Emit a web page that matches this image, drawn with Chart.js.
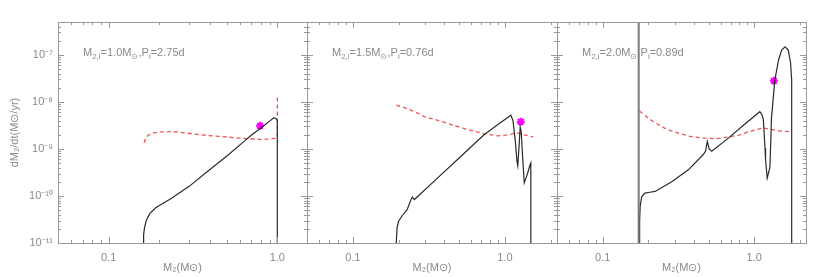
<!DOCTYPE html>
<html>
<head>
<meta charset="utf-8">
<script src="https://cdn.jsdelivr.net/npm/chart.js@4"></script>
<style>
  body { margin: 0; background: #fff; }
  #wrap { position: relative; width: 830px; height: 277px; }
  #wrap canvas { position: absolute; left: 0; top: 0; }
</style>
</head>
<body>
<div id="wrap">
  <canvas id="c1" width="830" height="277"></canvas>
  <canvas id="c2" width="830" height="277"></canvas>
  <canvas id="c3" width="830" height="277"></canvas>
</div>
<script>
// axis ticks / labels
const yTickValues = [1e-11, 1e-10, 1e-9, 1e-8, 1e-7];
const yTickLabels = ['10⁻¹¹', '10⁻¹⁰', '10⁻⁹', '10⁻⁸', '10⁻⁷'];
const xTickValues = [0.1, 1.0];
const xTickLabels = ['0.1', '1.0'];

// panel annotations
const panelMass = ['1.0', '1.5', '2.0'];
const panelPeriod = ['2.75', '0.76', '0.89'];

// panel 1 : M2,i = 1.0
const p1MdotX = [0.160, 0.161, 0.163, 0.167, 0.175, 0.19, 0.21, 0.231, 0.30, 0.40, 0.50, 0.643, 0.70, 0.80, 0.90, 0.955, 0.985, 1.0, 1.0];
const p1MdotY = [1e-11, 1.5e-11, 2.1e-11, 3e-11, 4.2e-11, 5.6e-11, 7e-11, 8.5e-11, 1.6e-10, 3.7e-10, 7e-10, 1.5e-9, 1.95e-9, 2.8e-9, 3.9e-9, 4.6e-9, 4.4e-9, 4.0e-9, 1e-11];
const p1CritX = [0.162, 0.166, 0.171, 0.185, 0.20, 0.24, 0.28, 0.35, 0.45, 0.60, 0.79, 0.90, 0.98, 1.0, 1.0];
const p1CritY = [1.35e-9, 1.7e-9, 1.95e-9, 2.2e-9, 2.3e-9, 2.33e-9, 2.2e-9, 2.0e-9, 1.85e-9, 1.7e-9, 1.6e-9, 1.62e-9, 1.7e-9, 1.75e-9, 1.3e-8];
const p1StarX = [0.79];
const p1StarY = [3.1e-9];

// panel 2 : M2,i = 1.5
const p2MdotX = [0.193, 0.1955, 0.200, 0.211, 0.2275, 0.2415, 0.2467, 0.254, 0.265, 0.35, 0.50, 0.729, 0.90, 1.094, 1.13, 1.17, 1.20, 1.215, 1.24, 1.26, 1.28, 1.31, 1.34, 1.40, 1.46, 1.48, 1.48];
const p2MdotY = [1e-11, 2.1e-11, 2.9e-11, 3.8e-11, 5.1e-11, 8.4e-11, 9.5e-11, 8.4e-11, 9.5e-11, 2.2e-10, 6.4e-10, 2.0e-9, 3.3e-9, 5.2e-9, 4.0e-9, 1.5e-9, 5.5e-10, 4.4e-10, 1.2e-9, 2.9e-9, 2.3e-9, 6e-10, 1.9e-10, 2.8e-10, 4.5e-10, 5e-10, 1e-11];
const p2CritX = [0.193, 0.22, 0.26, 0.293, 0.377, 0.47, 0.566, 0.729, 0.90, 1.05, 1.20, 1.35, 1.53];
const p2CritY = [8.5e-9, 7.5e-9, 6e-9, 4.9e-9, 3.9e-9, 3.1e-9, 2.6e-9, 2.1e-9, 1.9e-9, 2.0e-9, 2.2e-9, 2.0e-9, 1.8e-9];
const p2StarX = [1.27];
const p2StarY = [3.8e-9];

// panel 3 : M2,i = 2.0
const p3MdotX = [0.175, 0.1755, 0.177, 0.181, 0.19, 0.205, 0.222, 0.286, 0.368, 0.462, 0.478, 0.491, 0.505, 0.525, 0.676, 0.85, 1.09, 1.12, 1.15, 1.18, 1.19, 1.22, 1.27, 1.29, 1.30, 1.37, 1.45, 1.52, 1.60, 1.68, 1.74, 1.77, 1.77];
const p3MdotY = [1e-11, 3e-11, 6e-11, 9.5e-11, 1.15e-10, 1.2e-10, 1.25e-10, 2e-10, 3.6e-10, 7.6e-10, 9e-10, 1.45e-9, 1.0e-9, 8.9e-10, 1.7e-9, 3.2e-9, 6.2e-9, 5.5e-9, 4.3e-9, 1.05e-9, 5.9e-10, 2.4e-10, 4e-10, 1.6e-9, 4.3e-9, 2.9e-8, 7.8e-8, 1.26e-7, 1.48e-7, 1.26e-7, 6.8e-8, 2.9e-8, 1e-11];
const p3CritX = [0.175, 0.20, 0.23, 0.265, 0.32, 0.377, 0.47, 0.566, 0.68, 0.807, 1.0, 1.15, 1.3, 1.5, 1.77];
const p3CritY = [6.4e-9, 4.5e-9, 3.4e-9, 2.6e-9, 2.15e-9, 1.85e-9, 1.7e-9, 1.65e-9, 1.8e-9, 2.0e-9, 2.5e-9, 2.8e-9, 2.6e-9, 2.4e-9, 2.3e-9];
const p3StarX = [1.35];
const p3StarY = [2.8e-8];
const p3MarkX = [0.173, 0.173];
const p3MarkY = [1e-11, 5e-7];

const axisColor = '#9a9a9a';
const textColor = '#8a8a8a';
const critColor = 'rgb(240, 85, 85)';
Chart.defaults.font.family = "'Liberation Sans', Arial, sans-serif";
Chart.defaults.color = textColor;

const pts = (xs, ys) => xs.map((x, i) => ({ x: x, y: ys[i] }));

// IDL style frame: inward ticks on all four sides + panel label
const frame = {
  id: 'frame',
  afterDatasetsDraw(chart, args, opts) {
    const { ctx, chartArea: a, scales: { x, y } } = chart;
    ctx.save();
    ctx.strokeStyle = axisColor;
    ctx.lineWidth = 1;
    const seg = (x1, y1, x2, y2) => { ctx.beginPath(); ctx.moveTo(x1, y1); ctx.lineTo(x2, y2); ctx.stroke(); };
    for (let e = -12; e <= -6; e++) {
      for (let m = 1; m <= 9; m++) {
        const v = m * Math.pow(10, e);
        if (v < y.min * 0.999 || v > y.max) continue;
        const py = Math.round(y.getPixelForValue(v)) + 0.5;
        const len = m === 1 ? 6 : 3;
        seg(a.left, py, a.left + len, py);
        seg(a.right, py, a.right - len, py);
      }
    }
    for (let e = -2; e <= 0; e++) {
      for (let m = 1; m <= 9; m++) {
        const v = m * Math.pow(10, e);
        if (v < x.min || v > x.max) continue;
        const px = Math.round(x.getPixelForValue(v)) + 0.5;
        const len = m === 1 ? 6 : 3;
        seg(px, a.bottom, px, a.bottom - len);
        seg(px, a.top, px, a.top + len);
      }
    }
    ctx.strokeRect(Math.round(a.left) + 0.5, Math.round(a.top) + 0.5, Math.round(a.width), Math.round(a.height));

    // M2,i=..M(sun),Pi=..d
    const parts = [['M', 0], ['2,i', 1], ['=' + opts.mass + 'M', 0], ['⊙', 1], [',P', 0], ['i', 1], ['=' + opts.period + 'd', 0]];
    let tx = a.left + 25;
    const ty = a.top + 34;
    ctx.fillStyle = textColor;
    ctx.textBaseline = 'alphabetic';
    parts.forEach(([s, sub]) => {
      ctx.font = (sub ? '8px' : '11px') + " 'Liberation Sans', Arial, sans-serif";
      ctx.fillText(s, tx, ty + (sub ? 3 : 0));
      tx += ctx.measureText(s).width;
    });
    ctx.restore();
  }
};

function makePanel(id, pad, xMax, showY, sets, k) {
  const datasets = [
    { data: sets.mdot, borderColor: '#2a2a2a', borderWidth: 1.2, pointRadius: 0 },
    { data: sets.crit, borderColor: critColor, borderWidth: 1.3, borderDash: [4, 3], pointRadius: 0 },
    { data: sets.star, showLine: false, pointStyle: 'star', pointRadius: 4, borderColor: '#ff00ff', borderWidth: 2 }
  ];
  if (sets.mark) {
    datasets.unshift({ data: sets.mark, borderColor: '#7a7a7a', borderWidth: 2, pointRadius: 0 });
  }
  return new Chart(document.getElementById(id), {
    type: 'line',
    data: { datasets: datasets },
    options: {
      responsive: false,
      animation: false,
      layout: { padding: pad },
      plugins: { legend: { display: false }, tooltip: { enabled: false }, frame: { mass: panelMass[k], period: panelPeriod[k] } },
      scales: {
        x: {
          type: 'logarithmic',
          min: 0.05,
          max: xMax,
          grid: { display: false, drawTicks: false },
          border: { display: false },
          afterBuildTicks: s => { s.ticks = xTickValues.map(v => ({ value: v })); },
          afterFit: s => { s.height = 34; },
          ticks: { autoSkip: false, maxRotation: 0, padding: 8, font: { size: 11 }, color: textColor,
                   callback: (v, i) => xTickLabels[i] },
          title: { display: true, text: 'M₂(M⊙)', font: { size: 11 }, color: textColor, padding: { top: 0, bottom: 2 } }
        },
        y: {
          type: 'logarithmic',
          display: showY,
          min: 1e-11,
          max: 5e-7,
          grid: { display: false, drawTicks: false },
          border: { display: false },
          afterBuildTicks: s => { s.ticks = yTickValues.map(v => ({ value: v })); },
          afterFit: s => { s.width = showY ? 58 : 0; },
          ticks: { autoSkip: false, padding: 5, font: { size: 11 }, color: textColor,
                   callback: (v, i) => yTickLabels[i] },
          title: { display: true, text: 'dM₂/dt(M⊙/yr)', font: { size: 11 }, color: textColor, padding: { top: 8, bottom: 0 } }
        }
      }
    },
    plugins: [frame]
  });
}

makePanel('c1', { left: 0, top: 22, right: 523, bottom: 0 }, 1.5, true,
  { mdot: pts(p1MdotX, p1MdotY), crit: pts(p1CritX, p1CritY), star: pts(p1StarX, p1StarY) }, 0);
makePanel('c2', { left: 307, top: 22, right: 273, bottom: 0 }, 2.2, false,
  { mdot: pts(p2MdotX, p2MdotY), crit: pts(p2CritX, p2CritY), star: pts(p2StarX, p2StarY) }, 1);
makePanel('c3', { left: 557, top: 22, right: 24, bottom: 0 }, 2.2, false,
  { mdot: pts(p3MdotX, p3MdotY), crit: pts(p3CritX, p3CritY), star: pts(p3StarX, p3StarY), mark: pts(p3MarkX, p3MarkY) }, 2);
</script>
</body>
</html>
